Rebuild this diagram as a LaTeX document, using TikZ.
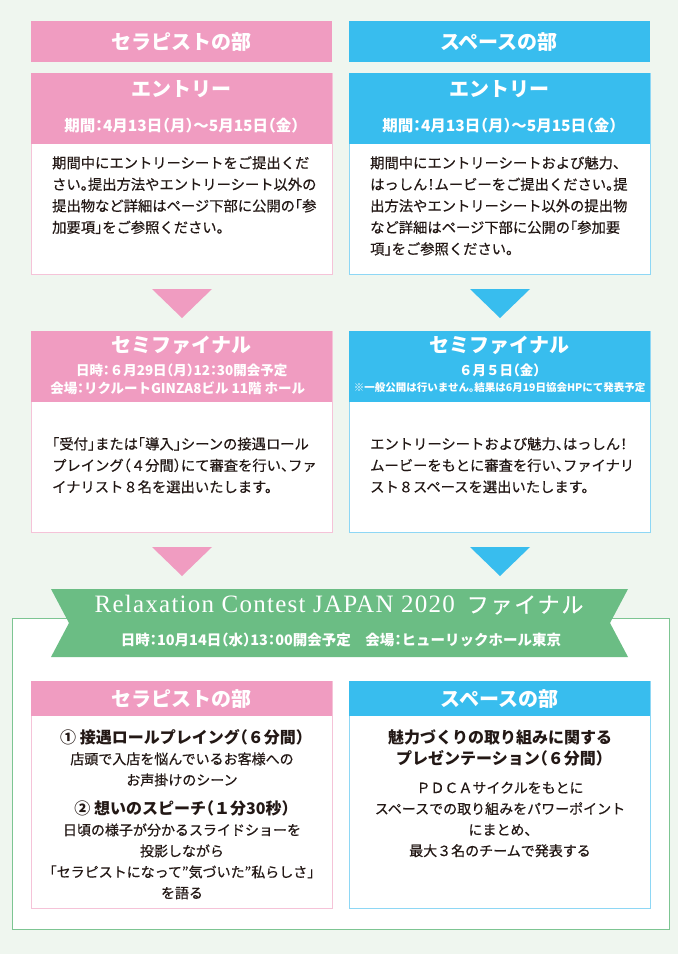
\documentclass[tikz,border=0pt]{standalone}
\usepackage{fontspec}
\setmainfont{Noto Sans CJK JP}[RawFeature=+halt, UprightFeatures={FakeBold=0.5}]
\newfontfamily\ribbonserif{Liberation Serif}[LetterSpace=5]
\usetikzlibrary{positioning,calc}

\definecolor{pagebg}{HTML}{EFF6EF}
\definecolor{therapypink}{HTML}{F09CC1}
\definecolor{therapyline}{HTML}{F5C3D8}
\definecolor{spaceblue}{HTML}{38BDEE}
\definecolor{spaceline}{HTML}{8ED7F5}
\definecolor{ribbongreen}{HTML}{6BBD84}
\definecolor{frameline}{HTML}{7DC592}
\definecolor{ink}{HTML}{231815}

\begin{document}
\begin{tikzpicture}[x=1pt, y=-1pt,
    card/.style={draw, line width=1pt, fill=white, minimum width=301pt, inner sep=0pt, anchor=north west},
    cardhead/.style={minimum width=301pt, inner sep=0pt, anchor=north west},
    headtext/.style={text=white, inner sep=0pt, font=\bfseries\fontsize{20}{24}\selectfont},
    subtext/.style={text=white, inner sep=0pt, font=\bfseries\fontsize{13.5}{16}\selectfont},
    bodytext/.style={text=ink, inner sep=0pt, align=left, anchor=north west, font=\fontsize{14.3}{21.5}\selectfont},
    finaltext/.style={text=ink, inner sep=0pt, align=center, anchor=north, font=\fontsize{14}{21}\selectfont},
    pointer/.style={draw=none}
]
\fill[pagebg] (0,0) rectangle (678,954);
\useasboundingbox (0,0) rectangle (678,954);

% division headers
\node[cardhead, fill=therapypink, minimum height=41pt, headtext] (therapyhead) at (31,21) {セラピストの部};
\node[cardhead, fill=spaceblue, minimum height=41pt, headtext, right=16pt of therapyhead] (spacehead) {スペースの部};

% entry
\node[card, draw=therapyline, minimum height=201pt] (entryL) at (31,73) {};
\node[card, draw=spaceline, minimum height=201pt, right=16pt of entryL] (entryR) {};
\node[cardhead, fill=therapypink, minimum height=71pt] (entryLhead) at (entryL.north west) {};
\node[cardhead, fill=spaceblue, minimum height=71pt] (entryRhead) at (entryR.north west) {};
\node[headtext] (entryLtitle) at ($(entryLhead.north)+(0,16)$) {エントリー};
\node[headtext] (entryRtitle) at ($(entryRhead.north)+(0,16)$) {エントリー};
\node[subtext, font=\bfseries\fontsize{15.5}{18}\selectfont] (entryLdate) at ($(entryLhead.north)+(0,53)$) {期間：4月13日（月）～5月15日（金）};
\node[subtext, font=\bfseries\fontsize{15.5}{18}\selectfont] (entryRdate) at ($(entryRhead.north)+(0,53)$) {期間：4月13日（月）～5月15日（金）};
\node[bodytext] (entryLtext) at ($(entryL.north west)+(21,83)$) {期間中にエントリーシートをご提出くだ\\さい。提出方法やエントリーシート以外の\\提出物など詳細はページ下部に公開の「参\\加要項」をご参照ください。};
\node[bodytext] (entryRtext) at ($(entryR.north west)+(21,83)$) {期間中にエントリーシートおよび魅力、\\はっしん！ムービーをご提出ください。提\\出方法やエントリーシート以外の提出物\\など詳細はページ下部に公開の「参加要\\項」をご参照ください。};

\fill[therapypink] ($(entryL.south)+(-30,14)$) -- ++(60,0) -- ++(-30,29) -- cycle;
\fill[spaceblue] ($(entryR.south)+(-30,14)$) -- ++(60,0) -- ++(-30,29) -- cycle;

% semifinal
\node[card, draw=therapyline, minimum height=201pt] (semiL) at (31,331) {};
\node[card, draw=spaceline, minimum height=201pt, right=16pt of semiL] (semiR) {};
\node[cardhead, fill=therapypink, minimum height=71pt] (semiLhead) at (semiL.north west) {};
\node[cardhead, fill=spaceblue, minimum height=71pt] (semiRhead) at (semiR.north west) {};
\node[headtext] (semiLtitle) at ($(semiLhead.north)+(0,14)$) {セミファイナル};
\node[headtext] (semiRtitle) at ($(semiRhead.north)+(0,14)$) {セミファイナル};
\node[subtext] (semiLdate) at ($(semiLhead.north)+(0,39)$) {日時：６月29日（月）12：30開会予定};
\node[subtext] (semiLplace) at ($(semiLhead.north)+(-4,57)$) {会場：リクルートGINZA8ビル 11階 ホール};
\node[subtext] (semiRdate) at ($(semiRhead.north)+(0,39)$) {６月５日（金）};
\node[subtext, font=\bfseries\fontsize{10.5}{12}\selectfont] (semiRnote) at ($(semiRhead.north)+(0,57)$) {※一般公開は行いません。結果は6月19日協会HPにて発表予定};
\node[bodytext] (semiLtext) at ($(semiL.north west)+(21,106)$) {「受付」または「導入」シーンの接遇ロール\\プレイング（４分間）にて審査を行い、ファ\\イナリスト８名を選出いたします。};
\node[bodytext] (semiRtext) at ($(semiR.north west)+(21,106)$) {エントリーシートおよび魅力、はっしん！\\ムービーをもとに審査を行い、ファイナリ\\スト８スペースを選出いたします。};

\fill[therapypink] ($(semiL.south)+(-30,14)$) -- ++(60,0) -- ++(-30,29) -- cycle;
\fill[spaceblue] ($(semiR.south)+(-30,14)$) -- ++(60,0) -- ++(-30,29) -- cycle;

% final
\node[draw=frameline, fill=white, line width=1pt, minimum width=657pt, minimum height=311pt, inner sep=0pt, anchor=north west] (finalframe) at (12,618) {};
\fill[ribbongreen] (51,589) -- (628,589) -- (610,623) -- (628,657) -- (51,657) -- (69,623) -- cycle;
\node[text=white, inner sep=0pt] (ribbontitle) at (339,605) {{\ribbonserif\fontsize{25}{28}\selectfont Relaxation Contest JAPAN 2020}\hspace{12pt}{\fontsize{22}{26}\selectfont\addfontfeature{LetterSpace=8}ファイナル}};
\node[subtext, font=\bfseries\fontsize{14.5}{17}\selectfont] (ribbondate) at (341,640) {日時：10月14日（水）13：00開会予定　会場：ヒューリックホール東京};

\node[card, draw=therapyline, minimum height=227pt] (finalL) at (31,681) {};
\node[card, draw=spaceline, minimum height=227pt, right=16pt of finalL] (finalR) {};
\node[cardhead, fill=therapypink, minimum height=35pt, headtext] (finalLhead) at (finalL.north west) {セラピストの部};
\node[cardhead, fill=spaceblue, minimum height=35pt, headtext] (finalRhead) at (finalR.north west) {スペースの部};
\node[finaltext] (finalLtext) at ($(finalL.north)+(0,48)$) {{\bfseries\fontsize{16}{21}\selectfont ① 接遇ロールプレイング（６分間）}\\店頭で入店を悩んでいるお客様への\\お声掛けのシーン\\[8pt]{\bfseries\fontsize{16}{21}\selectfont ② 想いのスピーチ（１分30秒）}\\日頃の様子が分かるスライドショーを\\投影しながら\\「セラピストになって”気づいた”私らしさ」\\を語る};
\node[finaltext] (finalRtext) at ($(finalR.north)+(0,48)$) {{\bfseries\fontsize{16}{21}\selectfont 魅力づくりの取り組みに関する}\\{\bfseries\fontsize{16}{21}\selectfont プレゼンテーション（６分間）}\\[8pt]ＰＤＣＡサイクルをもとに\\スペースでの取り組みをパワーポイント\\にまとめ、\\最大３名のチームで発表する};
\end{tikzpicture}
\end{document}
